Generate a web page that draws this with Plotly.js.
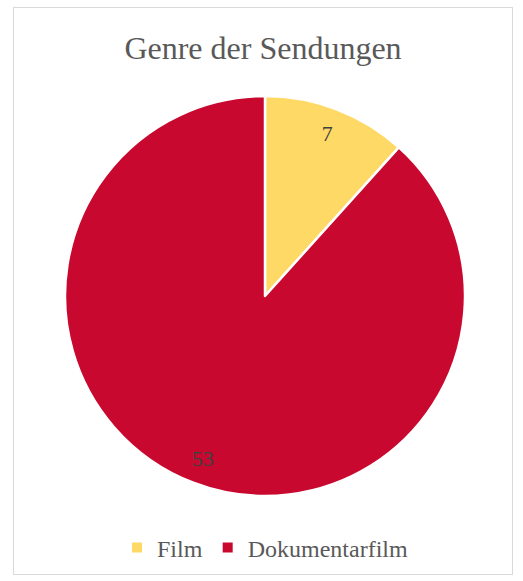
<!DOCTYPE html>
<html><head><meta charset="utf-8">
<script src="https://cdn.plot.ly/plotly-3.0.1.min.js"></script>
<style>
html,body{margin:0;padding:0;background:#fff;}
#wrap{position:absolute;left:13px;top:7px;width:500px;height:568px;border:1px solid #d9d9d9;box-sizing:border-box;}
#chart{width:498px;height:566px;}
</style></head>
<body><div id="wrap"><div id="chart"></div></div>
<script>
const chartTitle = "Genre der Sendungen";
const categories = ["Film", "Dokumentarfilm"];
const counts = [7, 53];
const sliceColors = ["#FFD966", "#C8082F"];

const serif = "Liberation Serif, Times New Roman, serif";

const pieTrace = {
  type: "pie",
  labels: categories,
  values: counts,
  sort: false,
  direction: "clockwise",
  rotation: 0,
  textinfo: "none",
  marker: {colors: sliceColors, line: {color: "#ffffff", width: 2.5}},
  hoverinfo: "label+value"
};

// transparent ring used only to place the value labels near the rim
const labelTrace = {
  type: "pie",
  labels: categories,
  values: counts,
  sort: false,
  direction: "clockwise",
  rotation: 0,
  hole: 0.74,
  showlegend: false,
  textinfo: "value",
  textposition: "inside",
  insidetextorientation: "horizontal",
  textfont: {family: serif, size: 22, color: "#404040"},
  marker: {colors: ["rgba(0,0,0,0)", "rgba(0,0,0,0)"], line: {width: 0}},
  hoverinfo: "skip"
};

const layout = {
  width: 498, height: 566,
  margin: {l: 51, r: 47, t: 88, b: 78},
  paper_bgcolor: "#ffffff",
  title: {
    text: chartTitle,
    font: {family: serif, size: 32, color: "#595959"},
    x: 0.5, xanchor: "center",
    yref: "container", y: 1 - 40/566, yanchor: "middle"
  },
  showlegend: true,
  legend: {
    orientation: "h",
    x: 0.5, xanchor: "center",
    yref: "container", y: 1 - 540/566, yanchor: "middle",
    font: {family: serif, size: 24, color: "#595959"},
    itemwidth: 30,
    itemsizing: "constant"
  }
};

Plotly.newPlot("chart", [pieTrace, labelTrace], layout, {displayModeBar: false, staticPlot: true});
</script>
</body></html>
